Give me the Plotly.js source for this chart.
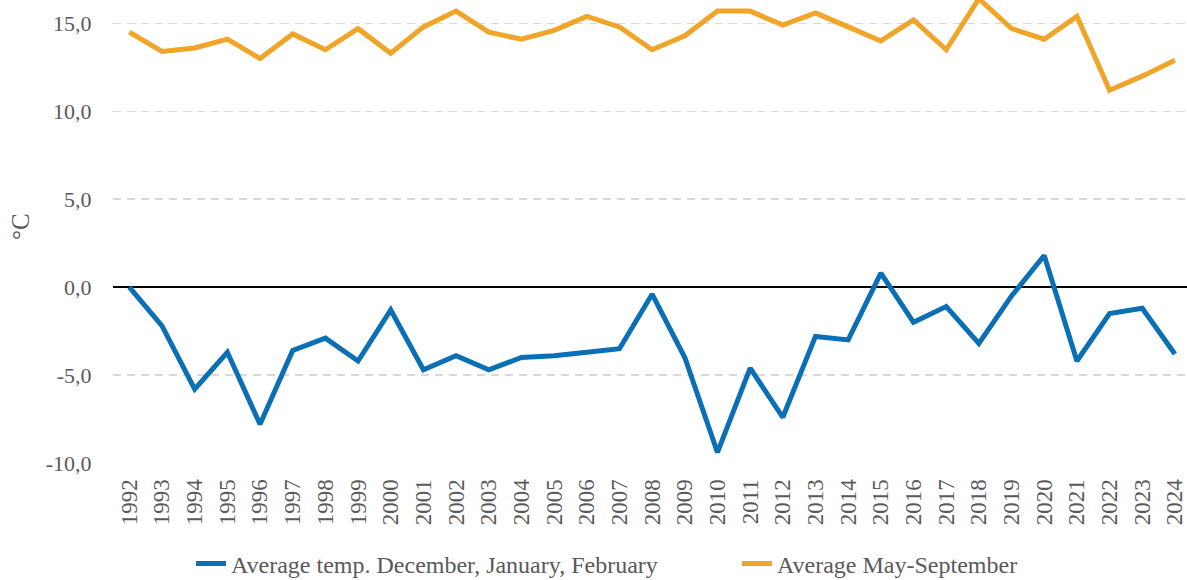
<!DOCTYPE html>
<html>
<head>
<meta charset="utf-8">
<script src="https://cdn.plot.ly/plotly-3.0.1.min.js"></script>
<style>html,body{margin:0;padding:0;background:#fff;}#chart{width:1187px;height:580px;}</style>
</head>
<body>
<div id="chart"></div>
<script>
const years = [1992,1993,1994,1995,1996,1997,1998,1999,2000,2001,2002,2003,2004,2005,2006,2007,2008,2009,2010,2011,2012,2013,2014,2015,2016,2017,2018,2019,2020,2021,2022,2023,2024];
const winterName = "Average temp. December, January, February";
const summerName = "Average May-September";
const winterTemp = [0.0,-2.2,-5.8,-3.7,-7.8,-3.6,-2.9,-4.2,-1.3,-4.7,-3.9,-4.7,-4.0,-3.9,-3.7,-3.5,-0.4,-4.0,-9.4,-4.6,-7.4,-2.8,-3.0,0.8,-2.0,-1.1,-3.2,-0.5,1.8,-4.2,-1.5,-1.2,-3.8];
const summerTemp = [14.5,13.4,13.6,14.1,13.0,14.4,13.5,14.7,13.3,14.8,15.7,14.5,14.1,14.6,15.4,14.8,13.5,14.3,15.7,15.7,14.9,15.6,14.8,14.0,15.2,13.5,16.4,14.7,14.1,15.4,11.2,12.0,12.9];
const yTicks = [-10,-5,0,5,10,15];
const yTickText = ["-10,0","-5,0","0,0","5,0","10,0","15,0"];
const yTitle = "°C";

const fontFam = "'Liberation Serif','Times New Roman',serif";
const grey = "#595959";

const traces = [
  {x: years, y: winterTemp, name: winterName, type: "scatter", mode: "lines",
   line: {color: "#0a6fb4", width: 5}, legend: "legend"},
  {x: years, y: summerTemp, name: summerName, type: "scatter", mode: "lines",
   line: {color: "#f0a428", width: 5}, legend: "legend2"}
];

const legFont = {family: fontFam, size: 24, color: grey};
const layout = {
  width: 1187, height: 580,
  margin: {l: 113, r: 0, t: 0, b: 117, autoexpand: false},
  paper_bgcolor: "#fff", plot_bgcolor: "#fff",
  font: {family: fontFam, color: grey, size: 20},
  showlegend: true,
  legend: {orientation: "h", xref: "container", x: 191/1187, xanchor: "left",
           y: -0.218, yanchor: "middle", font: legFont, bgcolor: "rgba(0,0,0,0)"},
  legend2: {orientation: "h", xref: "container", x: 737/1187, xanchor: "left",
           y: -0.218, yanchor: "middle", font: legFont, bgcolor: "rgba(0,0,0,0)"},
  annotations: [{
    text: yTitle, xref: "paper", yref: "paper", x: -0.0857, y: 0.512,
    xanchor: "center", yanchor: "middle", textangle: -90, showarrow: false,
    font: {family: fontFam, size: 25, color: grey}
  }],
  xaxis: {
    type: "linear", range: [1991.5, 2024.37], tickmode: "array", tickvals: years,
    ticktext: years.map(String), tickangle: -90, showgrid: false, zeroline: false,
    showline: false, ticks: "outside", ticklen: 6, tickcolor: "rgba(0,0,0,0)",
    tickfont: {family: fontFam, size: 23, color: grey}, fixedrange: true, automargin: false,
    ticklabeloverflow: "allow"
  },
  yaxis: {
    range: [-10, 16.33], tickmode: "array", tickvals: yTicks, ticktext: yTickText,
    showgrid: true, gridcolor: "#d9d9d9", gridwidth: 1.5, griddash: "8px,6px",
    zeroline: true, zerolinecolor: "#000", zerolinewidth: 2,
    showline: false, ticks: "outside", ticklen: 16, tickcolor: "rgba(0,0,0,0)",
    tickfont: {family: fontFam, size: 22, color: grey},
    fixedrange: true, automargin: false
  }
};

Plotly.newPlot("chart", traces, layout, {displayModeBar: false, staticPlot: true});
</script>
</body>
</html>
